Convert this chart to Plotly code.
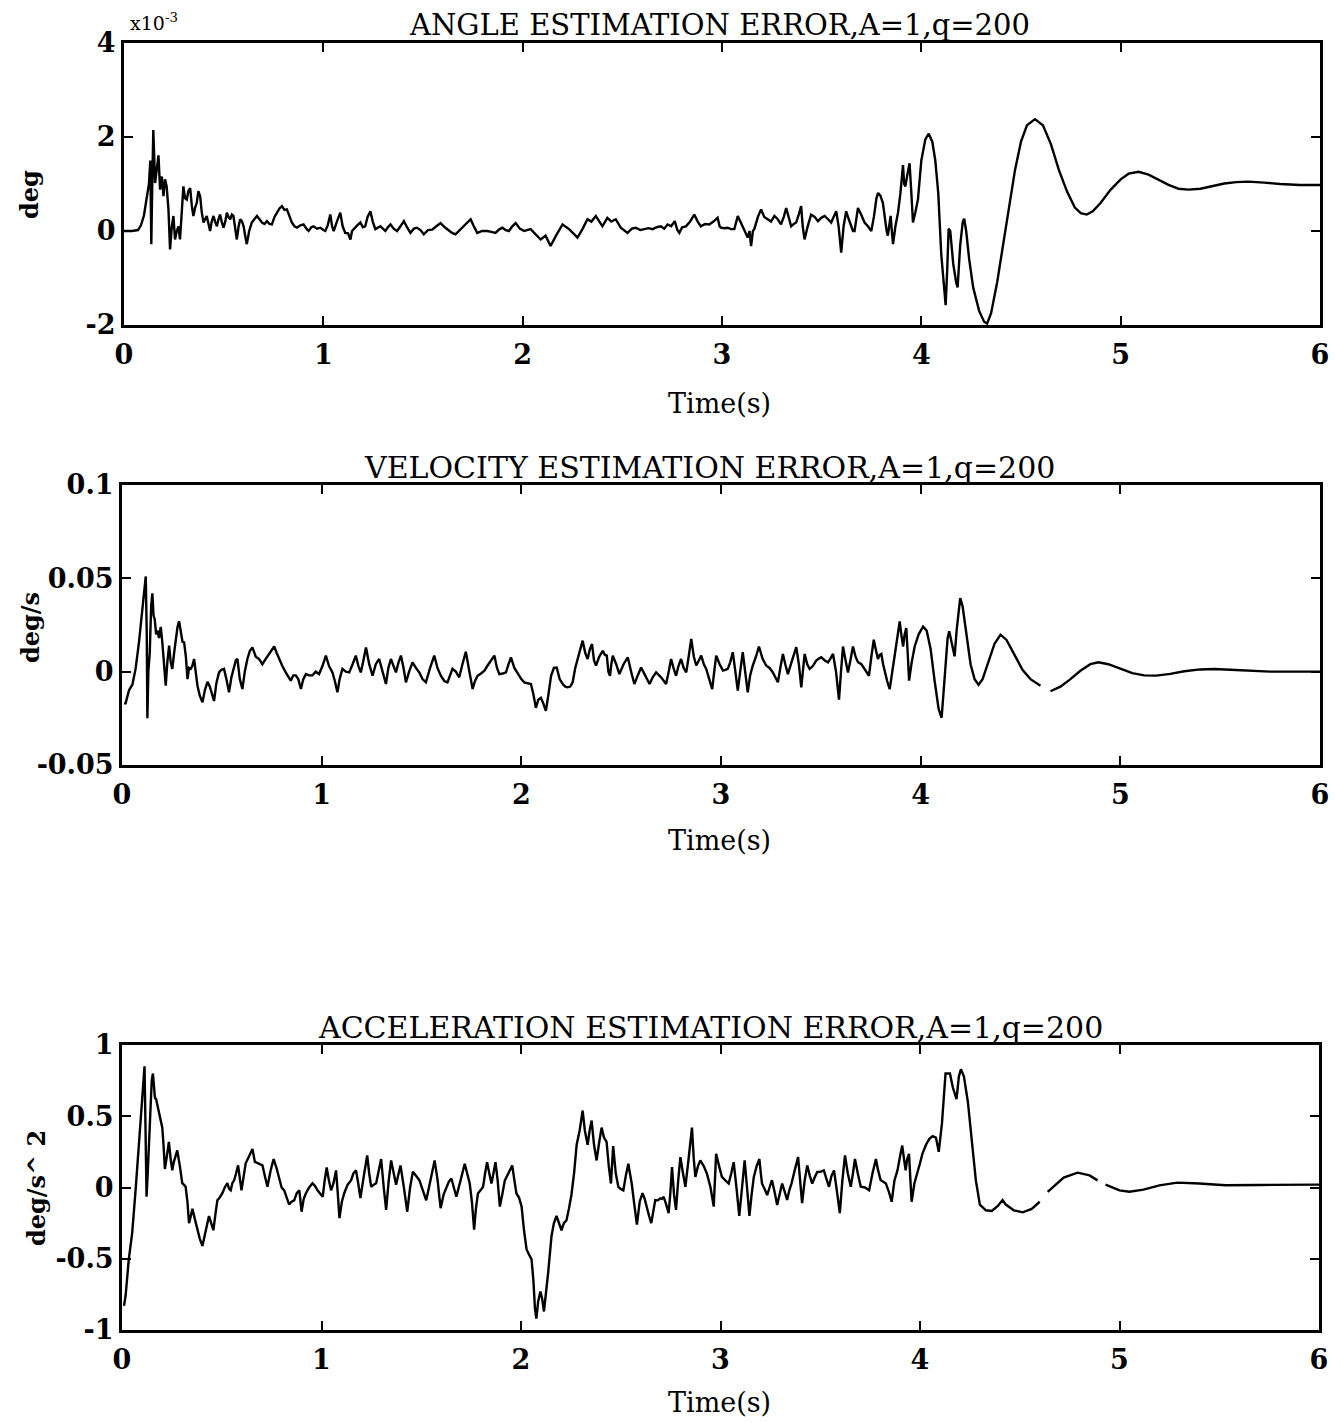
import plotly.graph_objects as go

W, H = 1333, 1415   # page body has an 8px margin; figure sized to fit the window
OFF = 8

# ---------------- ANGLE ESTIMATION ERROR (units of 1e-3 deg) ----------------
t_angle = [0.00,0.04,0.07,0.085,0.10,0.115,0.125,0.132,0.137,0.141,0.147,0.156,0.165,0.173,0.181,0.19,0.198,0.206,0.214,0.223,0.231,0.24,0.248,0.256,0.265,0.273,0.281,0.29,0.298,0.306,0.315,0.323,0.332,0.34,0.348,0.357,0.365,0.373,0.382,0.39,0.399,0.407,0.415,0.424,0.432,0.44,0.449,0.457,0.466,0.474,0.482,0.49,0.499,0.508,0.516,0.524,0.533,0.541,0.549,0.558,0.566,0.575,0.583,0.592,0.6,0.608,0.616,0.628,0.641,0.654,0.667,0.68,0.692,0.705,0.717,0.73,0.742,0.755,0.767,0.78,0.792,0.805,0.817,0.83,0.842,0.855,0.868,0.885,0.901,0.915,0.926,0.94,0.951,0.968,0.985,1.0,1.01,1.022,1.035,1.044,1.052,1.068,1.085,1.097,1.11,1.124,1.136,1.144,1.152,1.17,1.186,1.198,1.21,1.222,1.236,1.248,1.261,1.274,1.286,1.299,1.311,1.324,1.337,1.353,1.37,1.387,1.404,1.42,1.437,1.454,1.47,1.487,1.504,1.525,1.546,1.567,1.588,1.609,1.63,1.646,1.663,1.68,1.697,1.718,1.739,1.755,1.772,1.797,1.822,1.843,1.864,1.881,1.898,1.915,1.931,1.948,1.965,1.986,2.007,
           2.04,2.065,2.09,2.115,2.14,2.166,2.2,2.233,2.255,2.275,2.3,2.325,2.345,2.367,2.385,2.4,2.425,2.445,2.467,2.492,2.526,2.548,2.568,2.59,2.61,2.632,2.652,2.673,2.693,2.71,2.727,2.745,2.763,2.776,2.786,2.8,2.819,2.84,2.861,2.878,2.894,2.915,2.936,2.957,2.978,2.988,2.995,3.012,3.028,3.045,3.062,3.079,3.092,3.104,3.118,3.129,3.138,3.146,3.155,3.162,3.18,3.196,3.212,3.229,3.246,3.263,3.28,3.296,3.31,3.322,3.335,3.347,3.36,3.372,3.385,3.397,3.405,3.414,3.43,3.447,3.465,3.481,3.498,3.515,3.532,3.548,3.56,3.573,3.585,3.598,3.61,3.623,3.636,3.648,3.657,3.665,3.675,3.682,3.698,3.715,3.732,3.749,3.762,3.775,3.783,3.795,3.807,3.813,3.819,3.826,3.832,3.84,3.846,3.852,3.858,3.87,3.883,3.895,3.908,3.914,3.92,3.93,3.941,3.95,3.958,3.97,3.983,4.0,4.02,4.037,
           4.055,4.07,4.085,4.1,4.115,4.122,4.13,4.137,4.145,4.16,4.175,4.182,4.195,4.208,4.215,4.225,4.24,4.26,4.29,4.315,4.33,4.35,4.38,4.41,4.44,4.47,4.50,4.53,4.57,4.61,4.65,4.69,4.73,4.77,4.80,4.83,4.86,4.90,4.95,5.00,5.04,5.09,5.14,5.19,5.24,5.29,5.34,5.40,5.46,5.52,5.58,5.64,5.72,5.80,5.90,6.00]
v_angle = [0,0,0.02,0.12,0.33,0.7,1.0,1.5,-0.28,0.8,2.15,1.02,1.3,1.61,0.88,1.16,0.74,1.1,0.95,0.46,-0.39,0.1,0.32,-0.18,0.0,0.1,-0.18,0.5,0.95,0.7,0.67,0.85,0.91,0.55,0.32,0.5,0.6,0.85,0.74,0.4,0.18,0.25,0.32,0.15,0.0,0.2,0.32,0.2,0.1,0.25,0.35,0.2,0.07,0.2,0.39,0.3,0.25,0.35,0.32,0.05,-0.18,0.1,0.25,0.2,0.1,-0.1,-0.28,0.0,0.18,0.25,0.32,0.25,0.18,0.15,0.21,0.15,0.14,0.3,0.39,0.48,0.53,0.45,0.46,0.3,0.18,0.1,0.07,0.12,0.14,0.05,0.0,0.08,0.1,0.05,0.07,0.02,0.0,0.12,0.35,0.1,0.0,0.2,0.39,0.1,-0.04,-0.05,-0.18,0.0,0.04,0.12,0.18,0.08,0.1,0.3,0.42,0.2,0.04,0.08,0.1,0.05,0.0,0.08,0.14,0.05,0.0,0.1,0.21,0.08,-0.04,0.05,0.07,0.02,-0.07,0.02,0.03,0.1,0.17,0.08,0.0,-0.04,-0.07,0.0,0.07,0.15,0.25,0.1,-0.04,0.0,0.0,-0.02,-0.04,0.03,0.07,0.02,0.0,0.1,0.17,0.05,0.0,
           0.04,-0.07,-0.18,-0.1,-0.32,-0.11,0.14,0.04,-0.05,-0.14,0.04,0.25,0.2,0.32,0.2,0.1,0.28,0.2,0.25,0.07,-0.04,0.05,0.07,0.02,0.04,0.06,0.04,0.08,0.1,0.05,0.14,0.1,0.21,0.02,-0.04,0.08,0.1,0.2,0.35,0.2,0.1,0.15,0.14,0.2,0.28,0.1,0.07,0.06,0.07,0.04,0.04,0.32,0.2,0.1,-0.05,-0.14,0.0,-0.32,0.0,0.04,0.3,0.46,0.3,0.25,0.2,0.32,0.25,0.14,0.3,0.49,0.3,0.1,0.15,0.18,0.35,0.53,0.1,-0.18,0.1,0.35,0.3,0.21,0.28,0.32,0.25,0.18,0.3,0.42,0.1,-0.46,0.1,0.42,0.25,0.1,0.0,0.0,0.3,0.49,0.35,0.18,0.1,0.0,0.3,0.7,0.81,0.75,0.6,0.4,0.32,0.0,-0.1,0.1,0.32,0.0,-0.28,0.1,0.39,0.8,1.4,1.0,0.95,1.2,1.44,0.8,0.18,0.4,0.67,1.5,1.95,2.07,
           1.9,1.5,0.8,-0.5,-1.3,-1.58,-0.8,0.05,0.0,-0.7,-1.1,-1.2,-0.3,0.2,0.26,0.0,-0.6,-1.2,-1.7,-1.93,-1.97,-1.75,-1.1,-0.3,0.5,1.3,1.9,2.25,2.38,2.25,1.85,1.3,0.85,0.5,0.38,0.35,0.42,0.6,0.88,1.1,1.22,1.26,1.2,1.09,0.98,0.9,0.88,0.9,0.96,1.01,1.04,1.05,1.03,1.0,0.98,0.98]

# ---------------- VELOCITY ESTIMATION ERROR (deg/s) ----------------
t_vel = [0.01,0.018,0.035,0.052,0.068,0.085,0.102,0.119,0.124,0.127,0.132,0.139,0.146,0.152,0.158,0.164,0.171,0.177,0.185,0.194,0.202,0.21,0.219,0.227,0.236,0.244,0.252,0.261,0.27,0.278,0.286,0.295,0.303,0.311,0.32,0.328,0.336,0.344,0.352,0.361,0.37,0.378,0.39,0.403,0.415,0.428,0.44,0.45,0.461,0.473,0.486,0.498,0.511,0.523,0.536,0.548,0.561,0.57,0.578,0.59,0.603,0.615,0.628,0.64,0.653,0.67,0.686,0.703,0.72,0.74,0.762,0.775,0.787,0.803,0.82,0.833,0.845,0.858,0.87,0.883,0.896,0.908,0.921,0.937,0.954,0.97,0.987,1.004,1.021,1.037,1.054,1.066,1.079,1.09,1.104,1.121,1.138,1.155,1.171,1.184,1.196,1.209,1.222,1.238,1.255,1.271,1.288,1.305,1.322,1.334,1.347,1.36,1.372,1.385,1.397,1.41,1.422,1.438,1.455,1.472,1.489,1.505,1.522,1.543,1.564,1.58,1.597,1.614,1.63,1.643,1.655,1.672,1.689,1.705,1.722,1.74,1.756,1.768,1.781,1.798,1.815,1.831,1.848,1.865,1.878,1.89,1.907,1.923,1.936,1.948,1.965,1.982,
         2.0,2.015,2.03,2.048,2.06,2.073,2.085,2.098,2.11,2.123,2.136,2.149,2.163,2.177,2.192,2.207,2.22,2.232,2.245,2.257,2.27,2.282,2.295,2.307,2.32,2.332,2.343,2.354,2.364,2.374,2.39,2.408,2.418,2.428,2.436,2.444,2.451,2.458,2.475,2.491,2.512,2.533,2.55,2.566,2.583,2.6,2.62,2.642,2.658,2.675,2.7,2.725,2.738,2.75,2.762,2.775,2.787,2.8,2.813,2.826,2.838,2.851,2.864,2.876,2.889,2.901,2.914,2.926,2.941,2.956,2.966,2.976,2.993,3.01,3.022,3.034,3.046,3.059,3.072,3.084,3.096,3.109,3.121,3.134,3.146,3.159,3.175,3.19,3.208,3.226,3.243,3.26,3.272,3.285,3.297,3.31,3.322,3.335,3.356,3.377,3.39,3.402,3.41,3.419,3.432,3.444,3.46,3.477,3.49,3.502,3.52,3.536,3.548,3.561,3.576,3.591,3.601,3.611,3.624,3.636,3.648,3.661,3.674,3.686,3.703,3.72,3.73,3.741,3.753,3.765,3.775,3.786,3.795,3.803,3.812,3.82,3.832,3.845,3.858,3.87,3.882,3.895,3.903,3.912,3.92,3.928,3.935,3.942,3.955,3.97,3.99,4.012,
         4.03,4.05,4.07,4.09,4.105,4.12,4.135,4.143,4.16,4.17,4.18,4.198,4.21,4.23,4.25,4.27,4.29,4.31,4.34,4.37,4.4,4.43,4.47,4.51,4.55,4.6,4.625,4.65,4.7,4.75,4.8,4.85,4.89,4.94,5.0,5.06,5.12,5.18,5.25,5.32,5.4,5.47,5.55,5.65,5.75,5.9,6.0]
v_vel = [-0.017,-0.017,-0.01,-0.007,0.0015,0.0157,0.0335,0.051,0.02,-0.025,0.0,0.01,0.035,0.042,0.03,0.028,0.02,0.022,0.018,0.024,0.0157,0.005,-0.0075,0.005,0.0139,0.005,0.0015,0.01,0.018,0.024,0.027,0.02,0.016,0.0157,0.008,-0.004,0.002,0.0015,0.003,0.0068,0.0,-0.0075,-0.013,-0.0164,-0.01,-0.0054,-0.008,-0.012,-0.0157,-0.006,-0.0004,0.001,0.0015,-0.004,-0.011,-0.003,0.0033,0.006,0.0068,-0.004,-0.0093,0.0,0.0068,0.011,0.013,0.008,0.0068,0.004,0.0068,0.01,0.0135,0.01,0.0068,0.003,-0.0004,-0.003,-0.0048,-0.002,-0.002,-0.004,-0.0093,-0.004,-0.0013,-0.002,-0.002,0.0,-0.0013,0.003,0.0086,0.003,-0.0004,-0.005,-0.011,-0.004,0.0015,0.0,-0.0004,0.004,0.0086,0.003,-0.0004,0.006,0.013,0.004,-0.0022,0.004,0.0068,0.0,-0.0066,0.002,0.0068,0.003,-0.0004,0.005,0.0086,0.002,-0.0057,0.0,0.005,0.002,-0.0004,-0.004,-0.0057,0.002,0.0086,0.002,-0.0022,-0.005,-0.0057,-0.002,0.0015,0.0,-0.003,0.004,0.0107,0.0,-0.0093,-0.005,-0.0022,-0.001,0.0005,0.0033,0.006,0.0086,0.002,-0.0013,-0.001,-0.0004,0.004,0.0077,0.002,-0.0013,
         -0.004,-0.0057,-0.006,-0.0066,-0.012,-0.0194,-0.015,-0.014,-0.017,-0.021,-0.012,-0.0022,0.002,0.0022,-0.004,-0.0066,-0.008,-0.0084,-0.008,-0.0057,0.002,0.0068,0.012,0.0166,0.01,0.0068,0.012,0.0148,0.006,0.0033,0.008,0.0112,0.009,0.0086,0.0,-0.0022,0.004,0.0086,0.004,-0.0013,0.004,0.0077,0.0,-0.0066,-0.002,0.0022,-0.002,-0.0066,-0.003,-0.0004,-0.003,-0.0066,0.0,0.0068,0.002,-0.0022,0.003,0.0068,0.002,-0.0004,0.008,0.0175,0.008,0.0033,0.006,0.0086,0.004,0.0015,-0.004,-0.0093,0.0,0.0086,0.004,0.0006,0.001,0.0015,0.005,0.0104,0.0,-0.0102,0.0,0.0104,0.0,-0.0111,-0.002,0.0033,0.008,0.0135,0.007,0.0033,0.002,-0.0004,-0.003,-0.0057,0.002,0.0095,0.004,-0.0013,0.006,0.0131,0.004,-0.0084,0.0,0.0095,0.004,0.0015,0.003,0.0059,0.007,0.0077,0.006,0.005,0.007,0.0095,0.0,-0.015,0.0,0.0135,0.006,-0.0004,0.006,0.0135,0.008,0.0051,0.004,0.0015,0.0,-0.0022,0.008,0.0171,0.012,0.0068,0.009,0.0095,0.004,-0.0004,-0.005,-0.0093,0.0,0.0068,0.015,0.0269,0.02,0.0135,0.02,0.0234,0.01,-0.0048,0.005,0.0135,0.02,0.0242,
         0.022,0.012,-0.005,-0.02,-0.0247,-0.005,0.018,0.0216,0.012,0.0082,0.022,0.0394,0.035,0.018,0.004,-0.004,-0.007,-0.004,0.006,0.015,0.0198,0.017,0.009,0.001,-0.004,-0.0075,None,-0.0105,-0.008,-0.004,0.0005,0.004,0.005,0.004,0.0015,-0.0008,-0.002,-0.0021,-0.0012,0.0002,0.0012,0.0014,0.001,0.0004,0.0,0.0,0.0]

# ---------------- ACCELERATION ESTIMATION ERROR (deg/s^2) ----------------
t_acc = [0.01,0.018,0.034,0.051,0.068,0.085,0.101,0.108,0.113,0.118,0.123,0.129,0.135,0.143,0.149,0.155,0.16,0.165,0.171,0.177,0.184,0.19,0.196,0.202,0.208,0.215,0.225,0.235,0.244,0.252,0.26,0.268,0.277,0.29,0.302,0.31,0.319,0.328,0.336,0.345,0.353,0.365,0.378,0.39,0.403,0.42,0.436,0.447,0.458,0.468,0.478,0.49,0.503,0.515,0.528,0.537,0.545,0.553,0.562,0.572,0.582,0.59,0.599,0.61,0.62,0.637,0.654,0.666,0.679,0.691,0.704,0.716,0.729,0.745,0.76,0.774,0.788,0.8,0.813,0.825,0.838,0.85,0.863,0.876,0.889,0.9,0.911,0.922,0.938,0.955,0.968,0.98,0.993,1.006,1.016,1.026,1.037,1.048,1.06,1.073,1.082,1.09,1.102,1.114,1.131,1.148,1.16,1.173,1.184,1.195,1.212,1.229,1.239,1.249,1.262,1.274,1.287,1.299,1.312,1.324,1.337,1.349,1.362,1.374,1.385,1.396,1.413,1.43,1.444,1.458,1.475,1.491,1.508,1.525,1.546,1.567,1.582,1.597,1.612,1.626,1.638,1.651,1.663,1.676,1.697,1.718,1.73,1.743,1.754,1.765,1.774,1.784,1.797,1.81,1.82,1.83,1.841,1.852,1.862,1.872,1.883,1.894,1.906,1.919,1.937,1.956,1.967,1.977,1.99,
         2.003,2.015,2.028,2.04,2.053,2.062,2.07,2.077,2.086,2.097,2.106,2.115,2.125,2.136,2.153,2.165,2.178,2.19,2.203,2.215,2.228,2.24,2.253,2.266,2.279,2.294,2.309,2.32,2.334,2.344,2.354,2.366,2.379,2.39,2.404,2.416,2.429,2.44,2.451,2.456,2.462,2.475,2.488,2.5,2.513,2.525,2.538,2.546,2.555,2.568,2.581,2.595,2.609,2.62,2.631,2.642,2.653,2.663,2.673,2.686,2.698,2.706,2.715,2.728,2.74,2.748,2.757,2.767,2.777,2.788,2.799,2.812,2.824,2.84,2.857,2.866,2.874,2.887,2.899,2.916,2.932,2.95,2.966,2.972,2.978,2.993,3.007,3.024,3.041,3.054,3.066,3.08,3.094,3.108,3.121,3.133,3.145,3.156,3.167,3.181,3.195,3.202,3.208,3.221,3.234,3.246,3.258,3.271,3.284,3.296,3.309,3.322,3.334,3.345,3.356,3.372,3.389,3.399,3.409,3.422,3.435,3.448,3.46,3.472,3.485,3.5,3.518,3.531,3.544,3.556,3.569,3.583,3.598,3.611,3.624,3.638,3.653,3.664,3.674,3.688,3.703,3.724,3.745,3.762,3.779,3.79,3.803,3.816,3.829,3.844,3.858,3.872,3.887,3.9,3.911,3.92,3.928,3.936,3.945,3.952,3.958,3.972,3.987,4.0,4.012,4.03,4.046,4.063,4.08,4.094,
         4.11,4.128,4.15,4.165,4.183,4.195,4.205,4.22,4.24,4.26,4.28,4.30,4.33,4.36,4.39,4.414,4.43,4.47,4.515,4.56,4.60,4.62,4.64,4.67,4.72,4.79,4.85,4.89,4.905,4.93,5.0,5.05,5.12,5.2,5.29,5.4,5.53,5.7,5.85,6.0]
v_acc = [-0.83,-0.76,-0.505,-0.32,-0.02,0.31,0.61,0.8,0.85,0.4,-0.065,0.1,0.31,0.56,0.75,0.8,0.68,0.63,0.62,0.58,0.55,0.51,0.47,0.42,0.3,0.13,0.22,0.32,0.2,0.12,0.18,0.22,0.26,0.15,0.03,0.02,0.005,-0.1,-0.25,-0.2,-0.15,-0.22,-0.3,-0.36,-0.41,-0.3,-0.2,-0.25,-0.3,-0.19,-0.09,-0.07,-0.04,0.0,0.03,-0.01,-0.02,0.03,0.05,0.1,0.155,0.07,-0.02,0.08,0.17,0.22,0.27,0.18,0.17,0.16,0.155,0.08,0.005,0.12,0.2,0.14,0.07,0.0,-0.02,-0.07,-0.12,-0.1,-0.09,-0.04,-0.02,-0.17,-0.08,-0.04,0.0,0.03,0.01,-0.02,-0.04,-0.065,0.05,0.14,0.05,-0.02,0.03,0.12,-0.05,-0.215,-0.1,-0.04,0.02,0.05,0.1,0.12,0.03,-0.075,0.08,0.225,0.1,0.005,0.02,0.03,0.12,0.2,0.0,-0.157,0.05,0.19,0.1,0.02,0.09,0.155,0.0,-0.17,0.0,0.11,0.08,0.05,-0.02,-0.09,0.05,0.19,0.05,-0.145,-0.05,0.005,0.04,0.063,0.0,-0.065,0.05,0.167,0.1,0.028,-0.1,-0.296,-0.15,-0.042,-0.02,0.005,0.1,0.178,0.1,0.028,0.1,0.178,0.05,-0.134,-0.05,0.05,0.1,0.155,0.05,-0.042,-0.07,
         -0.134,-0.3,-0.435,-0.47,-0.505,-0.65,-0.85,-0.92,-0.8,-0.73,-0.78,-0.87,-0.75,-0.6,-0.34,-0.25,-0.2,-0.25,-0.3,-0.25,-0.23,-0.15,-0.05,0.1,0.3,0.4,0.54,0.4,0.3,0.4,0.47,0.3,0.19,0.3,0.42,0.35,0.32,0.15,0.028,0.15,0.29,0.1,0.005,-0.01,-0.02,0.08,0.167,0.1,0.028,-0.12,-0.26,-0.1,-0.04,-0.08,-0.146,-0.2,-0.25,-0.15,-0.088,-0.09,-0.076,-0.08,-0.065,-0.12,-0.18,-0.05,0.144,-0.05,-0.157,0.05,0.213,0.1,0.005,0.2,0.42,0.2,0.074,0.15,0.19,0.15,0.097,0.0,-0.134,0.05,0.236,0.15,0.074,0.05,0.028,0.1,0.178,0.0,-0.2,0.0,0.19,0.0,-0.2,-0.05,0.074,0.15,0.2,0.1,0.028,-0.01,-0.053,0.0,0.051,-0.03,-0.123,-0.05,0.028,-0.03,-0.088,-0.02,0.028,0.12,0.213,0.05,-0.11,0.05,0.155,0.08,0.028,0.07,0.109,0.11,0.12,0.06,0.005,0.08,0.12,-0.02,-0.18,0.05,0.225,0.1,0.005,0.1,0.2,0.1,0.005,0.0,-0.019,0.1,0.2,0.12,0.051,0.04,0.028,-0.03,-0.1,0.05,0.12,0.22,0.294,0.2,0.12,0.2,0.236,0.05,-0.1,0.03,0.097,0.17,0.236,0.3,0.34,0.36,0.35,0.25,
         0.45,0.80,0.80,0.70,0.62,0.78,0.83,0.78,0.60,0.30,0.05,-0.12,-0.16,-0.165,-0.13,-0.088,-0.12,-0.16,-0.174,-0.15,-0.10,None,-0.03,0.007,0.07,0.104,0.085,0.05,None,0.02,-0.02,-0.03,-0.015,0.015,0.034,0.028,0.016,0.018,0.02,0.02]

titles = ["ANGLE ESTIMATION ERROR,A=1,q=200",
          "VELOCITY ESTIMATION ERROR,A=1,q=200",
          "ACCELERATION ESTIMATION ERROR,A=1,q=200"]
ylabels = ["deg", "deg/s", "deg/s^ 2"]
xlabel = "Time(s)"
x_ticks = [0, 1, 2, 3, 4, 5, 6]
y_ticks = [[-2, 0, 2, 4], [-0.05, 0, 0.05, 0.1], [-1, -0.5, 0, 0.5, 1]]
y_ticktext = [["-2", "0", "2", "4"], ["-0.05", "0", "0.05", "0.1"], ["-1", "-0.5", "0", "0.5", "1"]]
y_ranges = [[-2, 4], [-0.05, 0.1], [-1, 1]]

# pixel geometry (in window pixels) of each panel: left, right, top, bottom
panels = [(124, 1320, 43, 325), (122, 1320, 485, 765), (122, 1319, 1045, 1330)]
title_y = [25, 467, 1027]
title_x = [720, 709, 710]
title_size = [29, 30, 30]
xlabel_y = [403, 840, 1402]
ylabel_pos = [(30, 195), (30, 628), (36, 1188)]

SERIF = "DejaVu Serif, Liberation Serif, serif"

def px_x(p):
    return (p - OFF) / W

def px_y(p):
    return 1 - (p - OFF) / H

fig = go.Figure()
series = [(t_angle, v_angle), (t_vel, v_vel), (t_acc, v_acc)]
for i, (tt, vv) in enumerate(series):
    sfx = "" if i == 0 else str(i + 1)
    fig.add_trace(go.Scatter(x=tt, y=vv, mode="lines",
                             line=dict(color="black", width=2.4),
                             connectgaps=False, showlegend=False,
                             xaxis="x" + sfx, yaxis="y" + sfx))

layout = dict(width=W, height=H, paper_bgcolor="white", plot_bgcolor="white",
              autosize=False,
              margin=dict(l=0, r=0, t=0, b=0, pad=0, autoexpand=False), showlegend=False)
annotations = []
for i in range(3):
    sfx = "" if i == 0 else str(i + 1)
    l, r, t, b = panels[i]
    layout["xaxis" + sfx] = dict(
        domain=[px_x(l), px_x(r)], anchor="y" + sfx, range=[0, 6], automargin=False,
        tickvals=x_ticks, ticktext=[str(v) for v in x_ticks],
        ticks="inside", ticklen=9, tickwidth=2, tickcolor="black",
        showline=True, linewidth=3, linecolor="black", mirror="ticks",
        showgrid=False, zeroline=False, ticklabelstandoff=4,
        tickfont=dict(family=SERIF, size=27, color="black", weight="bold"))
    layout["yaxis" + sfx] = dict(
        domain=[px_y(b), px_y(t)], anchor="x" + sfx, range=y_ranges[i], automargin=False,
        tickvals=y_ticks[i], ticktext=y_ticktext[i],
        ticks="inside", ticklen=9, tickwidth=2, tickcolor="black",
        showline=True, linewidth=3, linecolor="black", mirror="ticks",
        showgrid=False, zeroline=False,
        tickfont=dict(family=SERIF, size=27, color="black", weight="bold"))
    annotations.append(dict(text=titles[i], x=px_x(title_x[i]), y=px_y(title_y[i]),
                            xref="paper", yref="paper", showarrow=False,
                            xanchor="center", yanchor="middle",
                            font=dict(family=SERIF, size=title_size[i], color="black")))
    annotations.append(dict(text=xlabel, x=px_x(720), y=px_y(xlabel_y[i]),
                            xref="paper", yref="paper", showarrow=False,
                            xanchor="center", yanchor="middle",
                            font=dict(family=SERIF, size=27, color="black")))
    annotations.append(dict(text=ylabels[i], x=px_x(ylabel_pos[i][0]), y=px_y(ylabel_pos[i][1]),
                            xref="paper", yref="paper", showarrow=False, textangle=-90,
                            xanchor="center", yanchor="middle",
                            font=dict(family=SERIF, size=24, color="black", weight="bold")))

annotations.append(dict(text="x10<sup>-3</sup>", x=px_x(128), y=px_y(22),
                        xref="paper", yref="paper", showarrow=False,
                        xanchor="left", yanchor="middle",
                        font=dict(family=SERIF, size=19, color="black")))
layout["annotations"] = annotations
fig.update_layout(**layout)
fig.write_html("out.html")
